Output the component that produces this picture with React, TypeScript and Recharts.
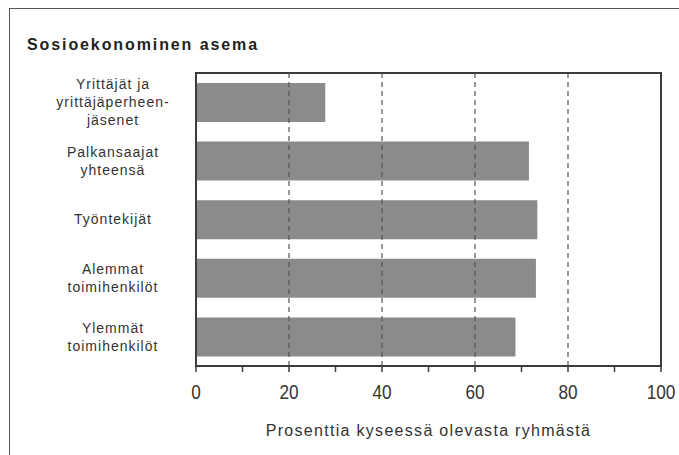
import { BarChart, Bar, XAxis, YAxis, ReferenceLine, ReferenceArea } from "recharts";

const categories = [
  "Yrittäjät ja yrittäjäperheenjäsenet",
  "Palkansaajat yhteensä",
  "Työntekijät",
  "Alemmat toimihenkilöt",
  "Ylemmät toimihenkilöt",
];

// how the category names wrap on the axis
const categoryLines = [
  ["Yrittäjät ja", "yrittäjäperheen-", "jäsenet"],
  ["Palkansaajat", "yhteensä"],
  ["Työntekijät"],
  ["Alemmat", "toimihenkilöt"],
  ["Ylemmät", "toimihenkilöt"],
];

const shares = [27.8, 71.6, 73.4, 73.1, 68.7];

const xTicks = [0, 10, 20, 30, 40, 50, 60, 70, 80, 90, 100];
const xLabelled = [0, 20, 40, 60, 80, 100];
const gridValues = [20, 40, 60, 80];

const data = categories.map((name, i) => ({ name, value: shares[i] }));

const TEXT = "#333";
const LINE = "#3c3c3c";

function CategoryTick(props: any) {
  const { x, y, index } = props;
  const lines = categoryLines[index] || [];
  const lh = 18;
  const start = y - ((lines.length - 1) * lh) / 2;
  return (
    <text
      x={x - 83}
      y={start}
      textAnchor="middle"
      fill={TEXT}
      fontSize={14}
      letterSpacing={1}
      fontFamily="'Liberation Sans', Arial, sans-serif"
    >
      {lines.map((l: string, i: number) => (
        <tspan key={i} x={x - 83} y={start + i * lh} dy="0.35em">
          {l}
        </tspan>
      ))}
    </text>
  );
}

function ValueTick(props: any) {
  const { x, y, payload } = props;
  if (!xLabelled.includes(payload.value)) return null;
  return (
    <g transform={`translate(${x},${y + 25}) scale(0.86,1)`}>
      <text
        x={0}
        y={0}
        textAnchor="middle"
        fill={TEXT}
        fontSize={20}
        fontFamily="'Liberation Sans', Arial, sans-serif"
      >
        {payload.value}
      </text>
    </g>
  );
}

export default function App() {
  return (
    <div
      style={{
        position: "fixed",
        left: 0,
        top: 0,
        width: 679,
        height: 455,
        overflow: "hidden",
        background: "#fff",
      }}
    >
      {/* outer frame */}
      <div
        style={{
          position: "absolute",
          left: 9,
          top: 8,
          width: 700,
          height: 470,
          border: "1.5px solid #555",
        }}
      />
      <div
        style={{
          position: "absolute",
          left: 27,
          top: 36,
          fontFamily: "'Liberation Sans', Arial, sans-serif",
          fontWeight: 700,
          fontSize: 16,
          letterSpacing: 1.9,
          color: "#222",
        }}
      >
        Sosioekonominen asema
      </div>
      <div style={{ position: "absolute", left: 0, top: 0 }}>
        <BarChart
          width={679}
          height={455}
          data={data}
          layout="vertical"
          margin={{ top: 73, right: 18, left: 10, bottom: 19 }}
          barCategoryGap="34%"
        >
          <ReferenceArea x1={0} x2={100} fill="none" stroke={LINE} strokeWidth={2} />
          {gridValues.map((v) => (
            <ReferenceLine key={v} x={v} stroke="#555" strokeDasharray="5 4" strokeWidth={1.2} />
          ))}
          <XAxis
            type="number"
            domain={[0, 100]}
            ticks={xTicks}
            interval={0}
            height={70}
            axisLine={{ stroke: LINE, strokeWidth: 2 }}
            tickLine={{ stroke: LINE, strokeWidth: 1.5 }}
            tickSize={6}
            tick={<ValueTick />}
            label={{
              value: "Prosenttia kyseessä olevasta ryhmästä",
              position: "insideBottom",
              offset: 0,
              fill: TEXT,
              fontSize: 16,
              letterSpacing: 1.3,
              fontFamily: "'Liberation Sans', Arial, sans-serif",
            }}
          />
          <YAxis
            type="category"
            dataKey="name"
            width={186}
            tickSize={0}
            tickMargin={0}
            tickLine={false}
            axisLine={{ stroke: LINE, strokeWidth: 2 }}
            tick={<CategoryTick />}
            interval={0}
          />
          <Bar dataKey="value" fill="#8b8b8b" barSize={39} isAnimationActive={false} />
        </BarChart>
      </div>
    </div>
  );
}
